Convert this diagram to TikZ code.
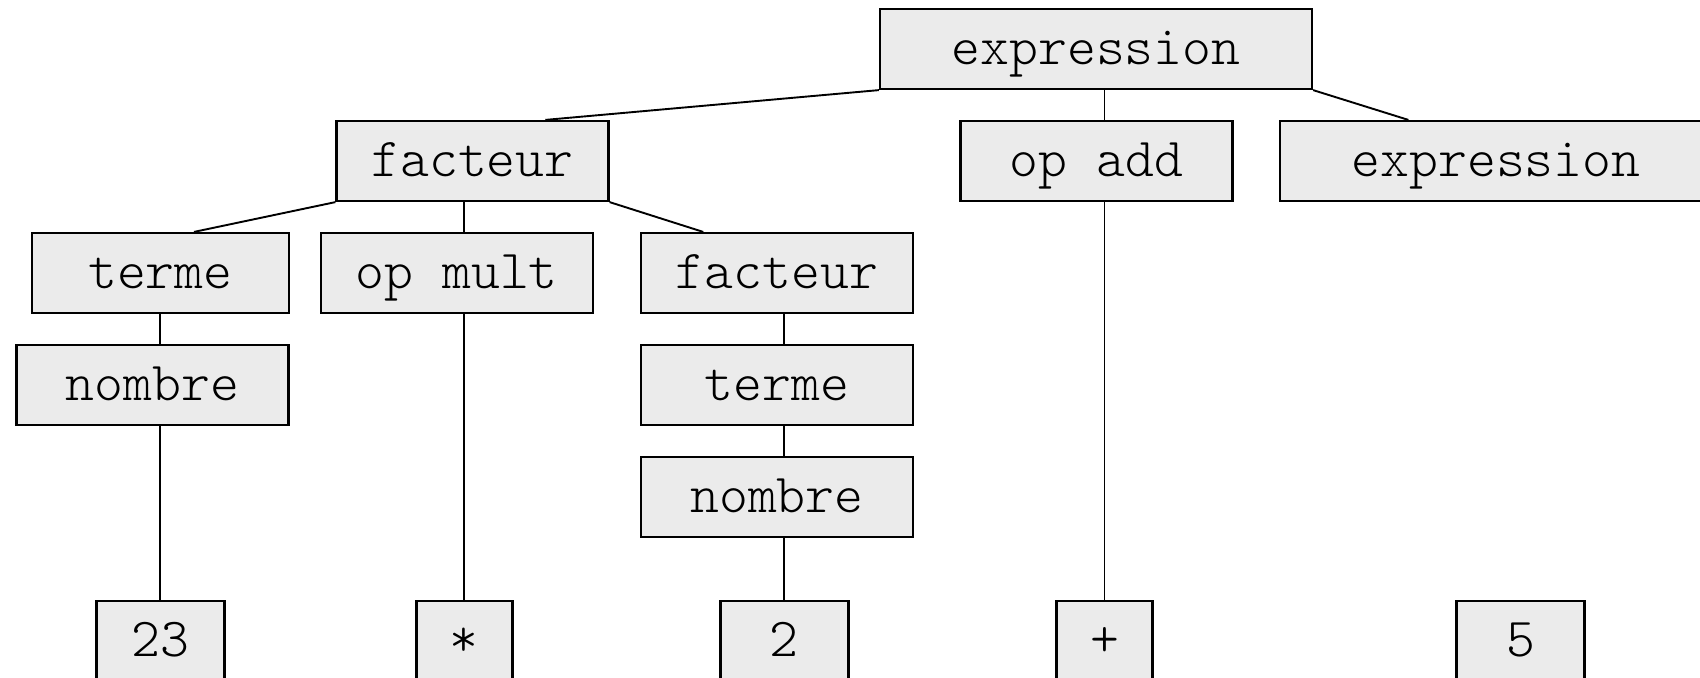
\documentclass[tikz,border=0pt]{standalone}
\usepackage{fontspec}
\setmonofont{Latin Modern Mono Light}
\usetikzlibrary{calc}
\definecolor{boxfill}{RGB}{235,235,235}
\tikzset{
  sym/.style={draw=black, line width=1.1pt, fill=boxfill, inner sep=0pt,
    minimum height=40pt, text height=19.6pt, text depth=4pt,
    font=\fontsize{27.5pt}{32pt}\selectfont\ttfamily},
  w432/.style={minimum width=216pt},
  w272/.style={minimum width=136pt},
  w256/.style={minimum width=128.3pt},
  w128/.style={minimum width=64pt},
  w96/.style={minimum width=48pt},
  link/.style={draw=black, line width=0.95pt}
}
\begin{document}
\begin{tikzpicture}[x=0.5pt, y=-0.5pt]
  \useasboundingbox (0,0) rectangle (1700,677);
  \clip (0,0) rectangle (1700,677);

  % upper levels of the parse tree
  \node[sym, w432] (root)  at (1096,   49)   {expression};
  \node[sym, w272] (f1)    at (472.5,  161)  {facteur};
  \node[sym, w272] (opadd) at (1096.5, 161)  {op add};
  \node[sym, w432] (e2)    at (1496,   161)  {expression};
  \node[sym, w256] (t1)    at (160.4,  273)  {terme};
  \node[sym, w272] (om)    at (456.7,  273)  {op mult};
  \node[sym, w272] (f2)    at (776.9,  273)  {facteur};
  \node[sym, w272] (n1)    at (152.4,  385.3) {nombre};
  \node[sym, w272] (t2)    at (776.9,  385.3) {terme};
  \node[sym, w272] (n2)    at (776.9,  497)  {nombre};

  % leaves
  \node[sym, w128] (l23)   at (160.4,  640.7) {23};
  \node[sym, w96]  (lmul)  at (464.4,  640.7) {*};
  \node[sym, w128] (l2)    at (784.4,  640.7) {2};
  \node[sym, w96]  (lplus) at (1104.5, 640.7) {+};
  \node[sym, w128] (l5)    at (1520.5, 640.7) {5};

  % slanted branches
  \draw[link] (root.south west) -- ($(f1.north)+(72.8,0)$);
  \draw[link] (root.south east) -- ($(e2.north)+(-87.6,0)$);
  \draw[link] (f1.south west) -- ($(t1.north)+(33.6,0)$);
  \draw[link] (f1.south east) -- ($(f2.north)+(-73.7,0)$);

  % vertical chains above each leaf
  \draw[link] (l23.north) -- (l23.north |- n1.south);
  \draw[link] (l23.north |- n1.north) -- (l23.north |- t1.south);

  \draw[link] (lmul.north) -- (lmul.north |- om.south);
  \draw[link] (lmul.north |- om.north) -- (lmul.north |- f1.south);

  \draw[link] (l2.north) -- (l2.north |- n2.south);
  \draw[link] (l2.north |- n2.north) -- (l2.north |- t2.south);
  \draw[link] (l2.north |- t2.north) -- (l2.north |- f2.south);

  \draw[link] (lplus.north) -- (lplus.north |- opadd.south);
  \draw[link] (lplus.north |- opadd.north) -- (lplus.north |- root.south);
\end{tikzpicture}
\end{document}
